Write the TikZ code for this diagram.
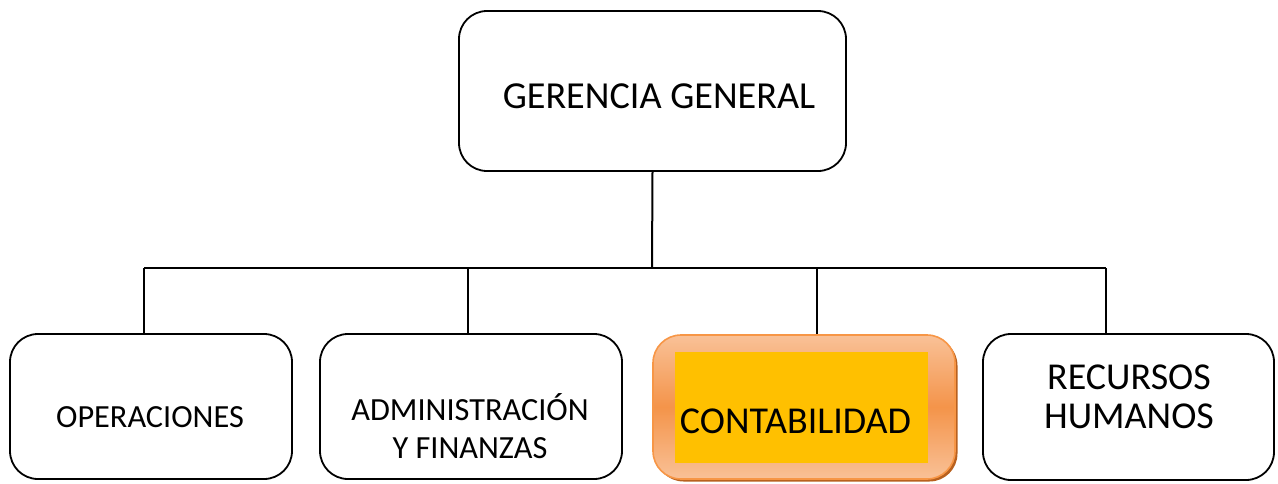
\documentclass[tikz,border=0pt]{standalone}
\usepackage{fontspec}
\setmainfont{Carlito}
\usetikzlibrary{shadows}
\definecolor{yellowin}{HTML}{FFC000}
\definecolor{orlight}{HTML}{F9C197}
\definecolor{ormid}{HTML}{F4944A}
\definecolor{orborder}{HTML}{F79646}
\definecolor{orshadow}{HTML}{B8601E}
\begin{document}
\begin{tikzpicture}[x=1pt,y=-1pt,
  box/.style={draw=black, line width=1.8pt, rounded corners=28pt, inner sep=0pt, fill=white},
  conn/.style={draw=black, line width=2pt},
  small/.style={font=\fontsize{32.3}{38}\selectfont, align=center, inner sep=0pt, anchor=base},
  large/.style={font=\fontsize{38}{39}\selectfont, align=center, inner sep=0pt, anchor=base},
  hilite/.style={draw=orborder, line width=1.6pt, rounded corners=28pt, inner sep=0pt,
    top color=orlight, bottom color=orlight, middle color=ormid,
    general shadow={fill=orshadow, shadow xshift=2.5pt, shadow yshift=-2.5pt}}]
\useasboundingbox (0,0) rectangle (1278,483);

% boxes
\node[box, minimum width=387pt, minimum height=160pt] (g) at (652.5,91) {};
\node[box, minimum width=282pt, minimum height=145pt] (op) at (151,406.5) {};
\node[box, minimum width=302pt, minimum height=145pt] (ad) at (471,406.5) {};
\node[hilite, minimum width=302pt, minimum height=144pt] (co) at (804,407) {};
\node[fill=yellowin, inner sep=0pt, minimum width=253pt, minimum height=111pt] (yl) at (801.5,407.5) {};
\node[box, minimum width=291pt, minimum height=146pt] (rh) at (1128.5,407) {};

% texts
\node[large, font=\fontsize{38.2}{40}\selectfont] (gt) at (659,108) {GERENCIA GENERAL};
\node[small] (opt) at (150,427) {OPERACIONES};
\node[small] (adt) at (470,458) {ADMINISTRACIÓN\\Y FINANZAS};
\node[large] (cot) at (795.5,433) {CONTABILIDAD};
\node[large] (rht) at (1129,428) {RECURSOS\\HUMANOS};

% connectors
\coordinate (hub) at (652,268);
\coordinate (hl) at (144,268);
\coordinate (ha) at (468,268);
\coordinate (hc) at (817,268);
\coordinate (hr) at (1106,268);
\draw[conn] (g.south) -- (hub);
\draw[conn] (hl) -- (hr);
\draw[conn] (hl) -- (hl |- op.north);
\draw[conn] (ha) -- (ha |- ad.north);
\draw[conn] (hc) -- (hc |- co.north);
\draw[conn] (hr) -- (hr |- rh.north);
\end{tikzpicture}
\end{document}
